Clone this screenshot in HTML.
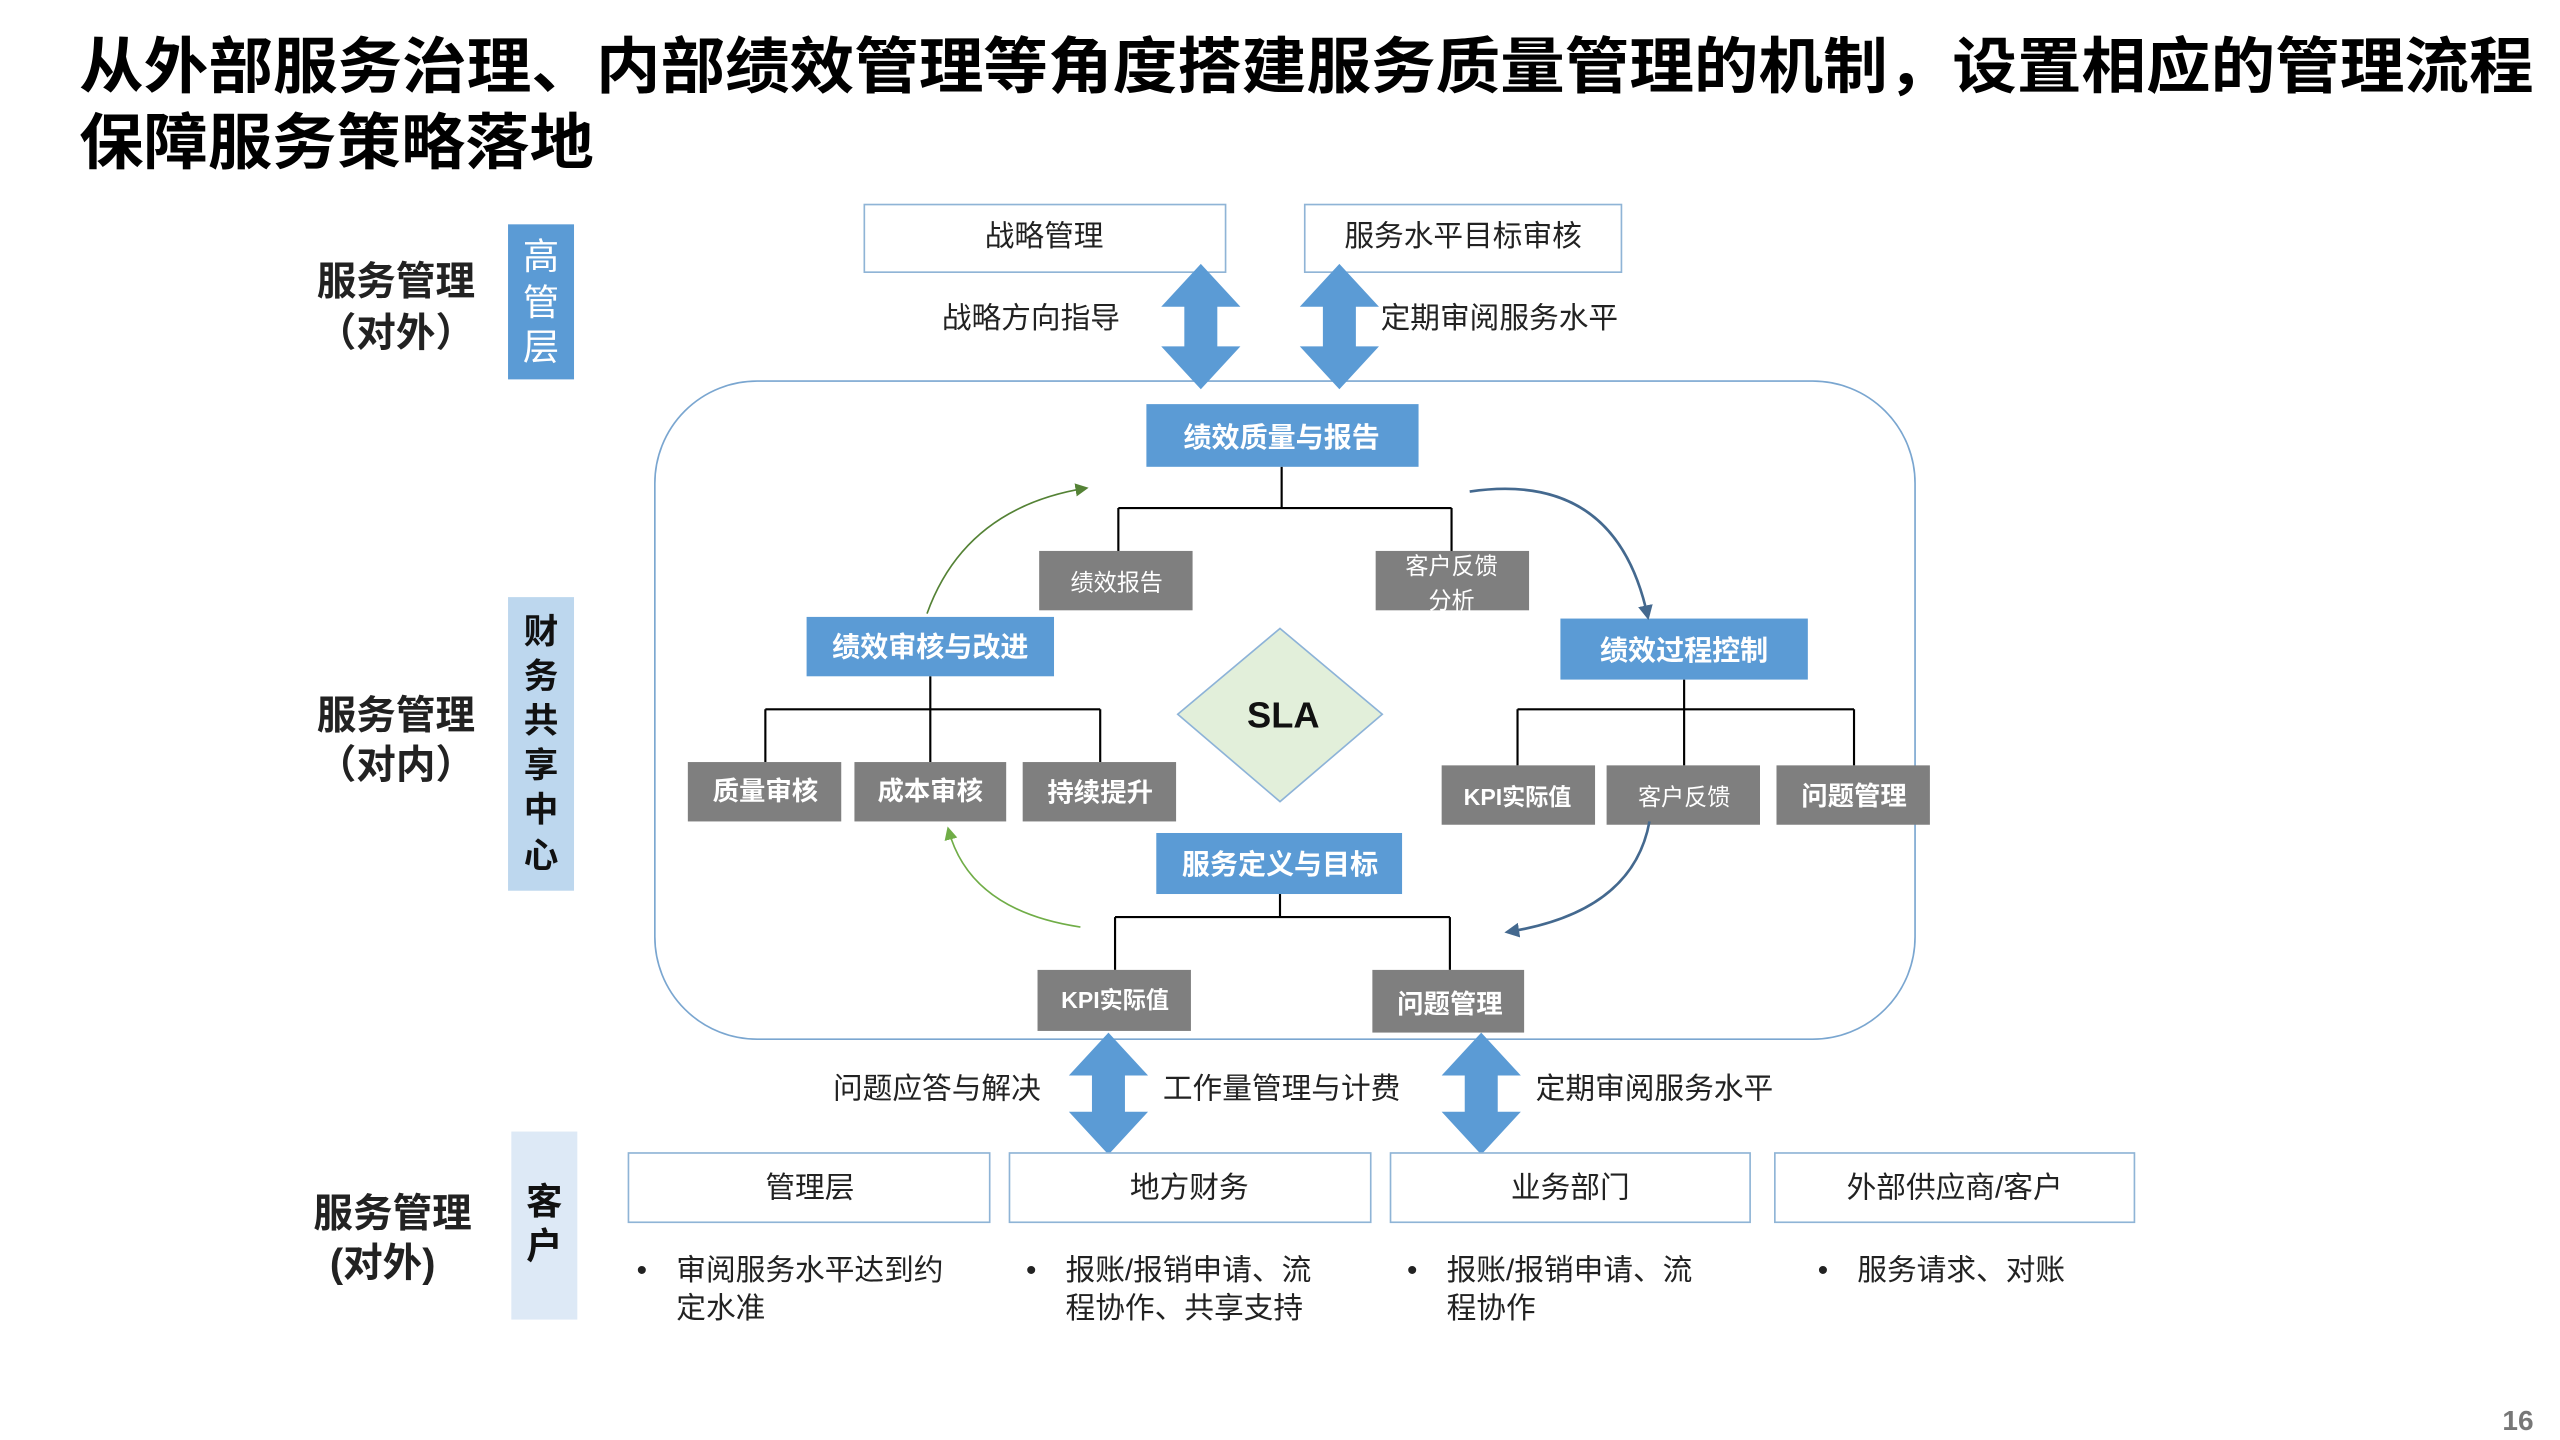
<!DOCTYPE html>
<html><head><meta charset="utf-8"><style>
html,body{margin:0;padding:0;background:#fff;}
svg{display:block;}
text{font-family:"Liberation Sans","Noto Sans CJK SC",sans-serif;}
</style></head><body>
<svg width="2560" height="1440" viewBox="0 0 1552 873" preserveAspectRatio="none" xmlns="http://www.w3.org/2000/svg">
<defs>
<marker id="ag" markerWidth="8" markerHeight="8" refX="6" refY="4" orient="auto" markerUnits="userSpaceOnUse"><path d="M0,0 L8,4 L0,8 z" fill="#548235"/></marker>
<marker id="agl" markerWidth="8" markerHeight="8" refX="6" refY="4" orient="auto" markerUnits="userSpaceOnUse"><path d="M0,0 L8,4 L0,8 z" fill="#70ad47"/></marker>
<marker id="ab" markerWidth="9" markerHeight="9" refX="7" refY="4.5" orient="auto" markerUnits="userSpaceOnUse"><path d="M0,0 L9,4.5 L0,9 z" fill="#44698f"/></marker>
</defs>
<!-- Title -->
<text x="48" y="53" font-size="37" font-weight="bold" fill="#000" textLength="1488" lengthAdjust="spacingAndGlyphs">从外部服务治理、内部绩效管理等角度搭建服务质量管理的机制，设置相应的管理流程</text>
<text x="48" y="99" font-size="37" font-weight="bold" fill="#000" textLength="312" lengthAdjust="spacingAndGlyphs">保障服务策略落地</text>

<!-- left labels -->
<g font-size="24" font-weight="bold" fill="#222" text-anchor="middle">
<text x="240" y="179">服务管理</text><text x="240" y="210">（对外）</text>
<text x="240" y="442">服务管理</text><text x="240" y="472">（对内）</text>
<text x="238" y="744">服务管理</text><text x="232" y="774">(对外)</text>
</g>
<rect x="308" y="136" width="40" height="94" fill="#5b9bd5"/>
<g font-size="22" fill="#fff" text-anchor="middle"><text x="328" y="163">高</text><text x="328" y="191">管</text><text x="328" y="218">层</text></g>
<rect x="308" y="362" width="40" height="178" fill="#bdd7ee"/>
<g font-size="21" font-weight="bold" fill="#111" text-anchor="middle"><text x="328" y="390">财</text><text x="328" y="417">务</text><text x="328" y="444">共</text><text x="328" y="471">享</text><text x="328" y="498">中</text><text x="328" y="526">心</text></g>
<rect x="310" y="686" width="40" height="114" fill="#dde9f6"/>
<g font-size="22" font-weight="bold" fill="#111" text-anchor="middle"><text x="330" y="736">客</text><text x="330" y="763">户</text></g>

<!-- top boxes -->
<rect x="524" y="124" width="219" height="41" fill="#fff" stroke="#8fb4d6" stroke-width="1"/>
<text x="633" y="149" font-size="18" text-anchor="middle" fill="#222">战略管理</text>
<rect x="791" y="124" width="192" height="41" fill="#fff" stroke="#8fb4d6" stroke-width="1"/>
<text x="887" y="149" font-size="18" text-anchor="middle" fill="#222">服务水平目标审核</text>

<!-- big rounded container -->
<rect x="397" y="231" width="764" height="399" rx="62" ry="62" fill="none" stroke="#7aa6d0" stroke-width="1"/>

<!-- double arrows -->
<g fill="#5b9bd5">
<path d="M728,160 L752,186 L738,186 L738,210 L752,210 L728,236 L704,210 L718,210 L718,186 L704,186 Z"/>
<path d="M812,160 L836,186 L822,186 L822,210 L836,210 L812,236 L788,210 L802,210 L802,186 L788,186 Z"/>
<path d="M672,626 L696,652 L682,652 L682,674 L696,674 L672,700 L648,674 L662,674 L662,652 L648,652 Z"/>
<path d="M898,626 L922,652 L908,652 L908,674 L922,674 L898,700 L874,674 L888,674 L888,652 L874,652 Z"/>
</g>
<g font-size="18" fill="#222">
<text x="571" y="199">战略方向指导</text>
<text x="837" y="199">定期审阅服务水平</text>
<text x="505" y="666">问题应答与解决</text>
<text x="705" y="666">工作量管理与计费</text>
<text x="931" y="666">定期审阅服务水平</text>
</g>

<!-- tree lines -->
<g stroke="#000" stroke-width="1.3" fill="none">
<path d="M777,283 V308 M678,308 H880 M678,308 V335 M880,308 V335"/>
<path d="M564,410 V430 M464,430 H667 M464,430 V462 M564,430 V462 M667,430 V462"/>
<path d="M1021,412 V430 M920,430 H1124 M920,430 V464 M1021,430 V464 M1124,430 V464"/>
<path d="M776,542 V556 M676,556 H879 M676,556 V588 M879,556 V588"/>
</g>

<!-- blue boxes -->
<g fill="#5b9bd5">
<rect x="695" y="245" width="165" height="38"/>
<rect x="489" y="374" width="150" height="36"/>
<rect x="946" y="375" width="150" height="37"/>
<rect x="701" y="505" width="149" height="37"/>
</g>
<g font-size="17" font-weight="bold" fill="#fff" text-anchor="middle">
<text x="777" y="271">绩效质量与报告</text>
<text x="564" y="398">绩效审核与改进</text>
<text x="1021" y="400">绩效过程控制</text>
<text x="776" y="530">服务定义与目标</text>
</g>

<!-- gray boxes -->
<g fill="#7f7f7f">
<rect x="630" y="334" width="93" height="36"/>
<rect x="834" y="334" width="93" height="36"/>
<rect x="417" y="462" width="93" height="36"/>
<rect x="518" y="462" width="92" height="36"/>
<rect x="620" y="462" width="93" height="36"/>
<rect x="874" y="464" width="93" height="36"/>
<rect x="974" y="464" width="93" height="36"/>
<rect x="1077" y="464" width="93" height="36"/>
<rect x="629" y="588" width="93" height="37"/>
<rect x="832" y="588" width="92" height="38"/>
</g>
<g fill="#fff" text-anchor="middle">
<text x="677" y="358" font-size="14">绩效报告</text>
<text x="880" y="348" font-size="14">客户反馈</text>
<text x="880" y="369" font-size="14">分析</text>
<text x="464" y="485" font-size="16" font-weight="bold">质量审核</text>
<text x="564" y="485" font-size="16" font-weight="bold">成本审核</text>
<text x="667" y="486" font-size="16" font-weight="bold">持续提升</text>
<text x="920" y="488" font-size="14" font-weight="bold">KPI实际值</text>
<text x="1021" y="488" font-size="14">客户反馈</text>
<text x="1124" y="488" font-size="16" font-weight="bold">问题管理</text>
<text x="676" y="611" font-size="14" font-weight="bold">KPI实际值</text>
<text x="879" y="614" font-size="16" font-weight="bold">问题管理</text>
</g>

<!-- SLA diamond -->
<path d="M776,381 L838,433 L776,486 L714,433 Z" fill="#e2efda" stroke="#8db3d8" stroke-width="1"/>
<text x="778" y="441" font-size="22" font-weight="bold" text-anchor="middle" fill="#111">SLA</text>

<!-- curved arrows -->
<path d="M562,372 Q585,308 658,296" fill="none" stroke="#548235" stroke-width="1" marker-end="url(#ag)"/>
<path d="M891,298 Q980,285 999,374" fill="none" stroke="#44698f" stroke-width="1.6" marker-end="url(#ab)"/>
<path d="M655,562 Q588,552 575,503" fill="none" stroke="#70ad47" stroke-width="1" marker-end="url(#agl)"/>
<path d="M1000,498 Q990,553 914,565" fill="none" stroke="#44698f" stroke-width="1.6" marker-end="url(#ab)"/>

<!-- bottom boxes -->
<g fill="#fff" stroke="#8fb4d6" stroke-width="1">
<rect x="381" y="699" width="219" height="42"/>
<rect x="612" y="699" width="219" height="42"/>
<rect x="843" y="699" width="218" height="42"/>
<rect x="1076" y="699" width="218" height="42"/>
</g>
<g font-size="18" fill="#222" text-anchor="middle">
<text x="491" y="726">管理层</text>
<text x="721" y="726">地方财务</text>
<text x="952" y="726">业务部门</text>
<text x="1185" y="726">外部供应商/客户</text>
</g>
<g font-size="18" fill="#222">
<text x="386" y="776">•</text><text x="410" y="776">审阅服务水平达到约</text><text x="410" y="799">定水准</text>
<text x="622" y="776">•</text><text x="646" y="776">报账/报销申请、流</text><text x="646" y="799">程协作、共享支持</text>
<text x="853" y="776">•</text><text x="877" y="776">报账/报销申请、流</text><text x="877" y="799">程协作</text>
<text x="1102" y="776">•</text><text x="1126" y="776">服务请求、对账</text>
</g>
<text x="1536" y="867" font-size="17" font-weight="bold" fill="#777" text-anchor="end">16</text>
</svg>
</body></html>
